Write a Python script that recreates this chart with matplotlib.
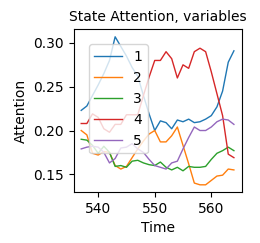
import matplotlib
matplotlib.use("Agg")
import matplotlib.pyplot as plt

time = list(range(537, 565))
s1 = [0.223, 0.228, 0.240, 0.252, 0.265, 0.280, 0.307, 0.296, 0.285, 0.272, 0.262, 0.240,
      0.219, 0.200, 0.211, 0.209, 0.202, 0.212, 0.210, 0.213, 0.209, 0.210, 0.213, 0.217,
      0.227, 0.245, 0.278, 0.291]
s2 = [0.200, 0.195, 0.174, 0.172, 0.176, 0.175, 0.160, 0.156, 0.159, 0.169, 0.179, 0.188,
      0.196, 0.200, 0.187, 0.187, 0.194, 0.204, 0.183, 0.162, 0.140, 0.138, 0.138, 0.143,
      0.148, 0.149, 0.156, 0.155]
s3 = [0.190, 0.189, 0.183, 0.174, 0.182, 0.175, 0.159, 0.160, 0.158, 0.165, 0.166, 0.163,
      0.161, 0.160, 0.164, 0.158, 0.155, 0.158, 0.154, 0.159, 0.158, 0.158, 0.159, 0.167,
      0.174, 0.177, 0.181, 0.177]
s4 = [0.208, 0.208, 0.219, 0.215, 0.202, 0.198, 0.207, 0.207, 0.218, 0.218, 0.218, 0.240,
      0.261, 0.280, 0.280, 0.290, 0.282, 0.260, 0.275, 0.271, 0.290, 0.294, 0.290, 0.267,
      0.242, 0.217, 0.173, 0.169]
s5 = [0.179, 0.181, 0.182, 0.181, 0.175, 0.163, 0.168, 0.180, 0.181, 0.185, 0.179, 0.175,
      0.167, 0.160, 0.158, 0.156, 0.163, 0.165, 0.179, 0.192, 0.204, 0.200, 0.200, 0.204,
      0.210, 0.213, 0.212, 0.207]
series = [s1, s2, s3, s4, s5]
labels = ["1", "2", "3", "4", "5"]

fig = plt.figure(figsize=(2.6, 2.43), dpi=100)
ax = fig.add_axes([0.283, 0.209, 0.646, 0.670])
for s, lab in zip(series, labels):
    ax.plot(time, s, label=lab, linewidth=1.0)
ax.set_title("State Attention, variables", fontsize=10)
ax.set_xlabel("Time", fontsize=10)
ax.set_ylabel("Attention", fontsize=10)
ax.tick_params(labelsize=10)
ax.set_xticks([540, 550, 560])
ax.set_yticks([0.15, 0.20, 0.25, 0.30])
ax.legend(loc="upper left", bbox_to_anchor=(0.05, 0.95), fontsize=10)
fig.savefig("out.png", dpi=100)
